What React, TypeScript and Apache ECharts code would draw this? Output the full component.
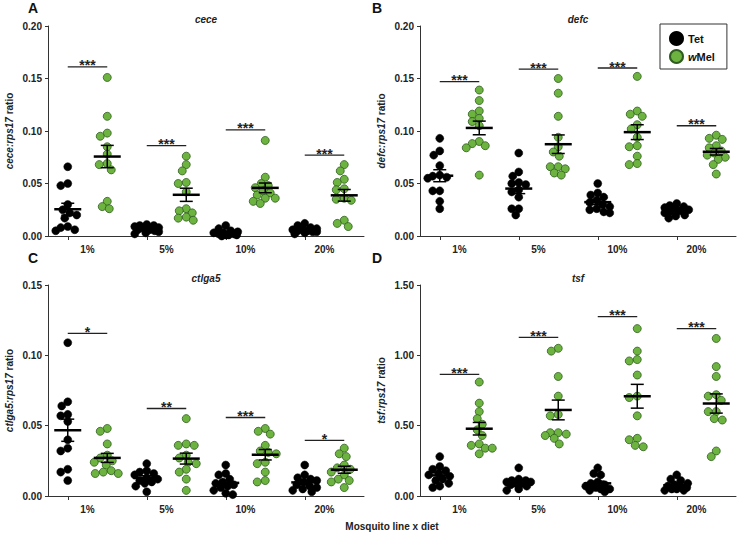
import React, { useEffect, useRef } from "react";
import * as echarts from "echarts";

// ---------- data ----------
const DIETS = ["1%", "5%", "10%", "20%"];
const SLOTS = ["1% Tet", "1% wMel", "5% Tet", "5% wMel", "10% Tet", "10% wMel", "20% Tet", "20% wMel"];

const ceceTet = [
  [0.066, 0.05, 0.048, 0.03, 0.025, 0.022, 0.02, 0.017, 0.009, 0.008, 0.006, 0.005],
  [0.011, 0.01, 0.01, 0.009, 0.008, 0.007, 0.006, 0.006, 0.005, 0.004, 0.003, 0.002],
  [0.01, 0.007, 0.005, 0.004, 0.003, 0.003, 0.002, 0.002, 0.001, 0.001, 0.001, 0.0],
  [0.012, 0.01, 0.008, 0.007, 0.006, 0.006, 0.005, 0.005, 0.004, 0.004, 0.003, 0.002],
];
const ceceWMel = [
  [0.151, 0.114, 0.098, 0.095, 0.085, 0.078, 0.069, 0.068, 0.063, 0.033, 0.028, 0.026],
  [0.076, 0.068, 0.062, 0.051, 0.05, 0.042, 0.026, 0.024, 0.022, 0.018, 0.017, 0.015],
  [0.091, 0.056, 0.05, 0.048, 0.046, 0.043, 0.041, 0.039, 0.036, 0.036, 0.033, 0.031],
  [0.068, 0.062, 0.054, 0.051, 0.045, 0.044, 0.036, 0.035, 0.034, 0.015, 0.012, 0.009],
];
const ceceSigY = [0.161, 0.086, 0.101, 0.077];
const ceceStars = ["***", "***", "***", "***"];

const defcTet = [
  [0.093, 0.081, 0.077, 0.067, 0.058, 0.057, 0.056, 0.055, 0.043, 0.043, 0.033, 0.026],
  [0.079, 0.061, 0.057, 0.051, 0.05, 0.049, 0.044, 0.042, 0.037, 0.026, 0.026, 0.02],
  [0.05, 0.041, 0.039, 0.037, 0.034, 0.032, 0.03, 0.028, 0.026, 0.025, 0.023, 0.022],
  [0.031, 0.029, 0.028, 0.027, 0.026, 0.025, 0.024, 0.023, 0.022, 0.02, 0.019, 0.017],
];
const defcWMel = [
  [0.139, 0.129, 0.119, 0.116, 0.112, 0.109, 0.105, 0.09, 0.088, 0.086, 0.084, 0.058],
  [0.15, 0.136, 0.114, 0.094, 0.085, 0.08, 0.076, 0.066, 0.066, 0.064, 0.06, 0.058],
  [0.152, 0.119, 0.116, 0.114, 0.106, 0.102, 0.094, 0.086, 0.085, 0.076, 0.069, 0.068],
  [0.096, 0.093, 0.092, 0.086, 0.084, 0.081, 0.079, 0.077, 0.075, 0.073, 0.068, 0.059],
];
const defcSigY = [0.147, 0.159, 0.16, 0.105];
const defcStars = ["***", "***", "***", "***"];

const ctlga5Tet = [
  [0.109, 0.067, 0.064, 0.058, 0.057, 0.053, 0.04, 0.034, 0.032, 0.019, 0.017, 0.011],
  [0.023, 0.018, 0.017, 0.016, 0.015, 0.013, 0.012, 0.011, 0.01, 0.009, 0.007, 0.003],
  [0.022, 0.016, 0.015, 0.012, 0.01, 0.009, 0.008, 0.007, 0.006, 0.004, 0.002, 0.001],
  [0.022, 0.015, 0.013, 0.012, 0.011, 0.01, 0.008, 0.007, 0.006, 0.005, 0.004, 0.003],
];
const ctlga5WMel = [
  [0.048, 0.046, 0.037, 0.029, 0.027, 0.025, 0.024, 0.022, 0.018, 0.017, 0.016, 0.016],
  [0.055, 0.037, 0.036, 0.036, 0.029, 0.027, 0.024, 0.023, 0.019, 0.017, 0.012, 0.004],
  [0.048, 0.046, 0.044, 0.036, 0.032, 0.031, 0.03, 0.024, 0.023, 0.017, 0.011, 0.01],
  [0.034, 0.03, 0.028, 0.022, 0.02, 0.019, 0.017, 0.015, 0.012, 0.011, 0.01, 0.006],
];
const ctlga5SigY = [0.1156, 0.0622, 0.0558, 0.0396];
const ctlga5Stars = ["*", "**", "***", "*"];

const tsfTet = [
  [0.28, 0.21, 0.19, 0.18, 0.16, 0.15, 0.14, 0.12, 0.11, 0.09, 0.07, 0.06],
  [0.2, 0.12, 0.11, 0.11, 0.1, 0.1, 0.09, 0.09, 0.08, 0.07, 0.05, 0.04],
  [0.2, 0.16, 0.15, 0.1, 0.09, 0.08, 0.07, 0.06, 0.05, 0.05, 0.04, 0.03],
  [0.15, 0.12, 0.11, 0.09, 0.08, 0.07, 0.06, 0.06, 0.05, 0.05, 0.04, 0.04],
];
const tsfWMel = [
  [0.81, 0.66, 0.6, 0.55, 0.51, 0.47, 0.43, 0.37, 0.36, 0.34, 0.34, 0.3],
  [1.05, 1.03, 0.85, 0.71, 0.58, 0.57, 0.45, 0.45, 0.44, 0.43, 0.41, 0.37],
  [1.19, 1.03, 0.97, 0.96, 0.86, 0.71, 0.7, 0.57, 0.41, 0.4, 0.36, 0.35],
  [1.12, 0.92, 0.85, 0.72, 0.71, 0.68, 0.6, 0.6, 0.55, 0.54, 0.32, 0.28],
];
const tsfSigY = [0.864, 1.127, 1.275, 1.19];
const tsfStars = ["***", "***", "***", "***"];

// ---------- layout ----------
const FONT = '"Liberation Sans", Arial, Helvetica, sans-serif';
const PLOT_W = 316;
const SLOT_PX = PLOT_W / 8;
const DOT = 8;
const GREEN = "#6db33f";
const GREEN_EDGE = "#2f5d1f";

const PANELS = [
  { letter: "A", gene: "cece", tet: ceceTet, wmel: ceceWMel, sigY: ceceSigY, stars: ceceStars, max: 0.2, step: 0.05, left: 48, top: 26, h: 210, lx: 33, ly: 8 },
  { letter: "B", gene: "defc", tet: defcTet, wmel: defcWMel, sigY: defcSigY, stars: defcStars, max: 0.2, step: 0.05, left: 420, top: 26, h: 210, lx: 377, ly: 8 },
  { letter: "C", gene: "ctlga5", tet: ctlga5Tet, wmel: ctlga5WMel, sigY: ctlga5SigY, stars: ctlga5Stars, max: 0.15, step: 0.05, left: 48, top: 285, h: 211, lx: 33, ly: 258 },
  { letter: "D", gene: "tsf", tet: tsfTet, wmel: tsfWMel, sigY: tsfSigY, stars: tsfStars, max: 1.5, step: 0.5, left: 420, top: 285, h: 211, lx: 377, ly: 258 },
];

function mean(a: number[]) {
  return a.reduce((s, v) => s + v, 0) / a.length;
}
function sem(a: number[]) {
  const m = mean(a);
  const v = a.reduce((s, x) => s + (x - m) * (x - m), 0) / (a.length - 1);
  return Math.sqrt(v) / Math.sqrt(a.length);
}

// simple beeswarm: horizontal offsets (in px) so dots do not overlap, capped width
function swarm(values: number[], pxPerUnit: number, diam: number, cap: number): number[] {
  const order = values.map((_, i) => i).sort((a, b) => values[b] - values[a]);
  const placed: { x: number; y: number }[] = [];
  const offs = new Array(values.length).fill(0);
  for (const i of order) {
    const y = values[i] * pxPerUnit;
    let best = 0;
    let bestScore = -Infinity;
    for (let k = 0; k <= 2 * cap; k++) {
      const c = (k % 2 === 0 ? 1 : -1) * Math.ceil(k / 2);
      let minD = Infinity;
      for (const p of placed) {
        const d = Math.hypot(p.x - c, p.y - y);
        if (d < minD) minD = d;
      }
      if (minD >= diam) {
        best = c;
        break;
      }
      if (minD > bestScore + 0.01) {
        bestScore = minD;
        best = c;
      }
    }
    placed.push({ x: best, y });
    offs[i] = best;
  }
  return offs;
}

function buildOption() {
  const grid: any[] = [];
  const xAxis: any[] = [];
  const yAxis: any[] = [];
  const series: any[] = [];
  const graphic: any[] = [];

  PANELS.forEach((p, gi) => {
    grid.push({ left: p.left, top: p.top, width: PLOT_W, height: p.h, containLabel: false });
    const pxPerUnit = p.h / p.max;
    xAxis.push({ type: "value", gridIndex: gi, min: 0, max: 8, show: false, position: "bottom" });
    xAxis.push({
      type: "category",
      gridIndex: gi,
      position: "bottom",
      data: SLOTS,
      axisLine: { show: true, lineStyle: { color: "#333", width: 1 } },
      axisTick: { show: true, alignWithLabel: true, length: 4, lineStyle: { color: "#333", width: 1 } },
      axisLabel: { show: false },
      splitLine: { show: false },
    });
    xAxis.push({
      type: "category",
      gridIndex: gi,
      position: "bottom",
      data: DIETS,
      axisLine: { show: false },
      axisTick: { show: false },
      axisLabel: { show: true, margin: 8, fontSize: 10, fontWeight: "bold", color: "#222", fontFamily: FONT },
      splitLine: { show: false },
    });
    yAxis.push({
      type: "value",
      gridIndex: gi,
      min: 0,
      max: p.max,
      interval: p.step,
      name: `{i|${p.gene}:rps17} ratio`,
      nameLocation: "middle",
      nameRotate: 90,
      nameGap: 34,
      nameTextStyle: {
        fontSize: 10,
        fontWeight: "bold",
        color: "#222",
        fontFamily: FONT,
        rich: { i: { fontSize: 10, fontWeight: "bold", fontStyle: "italic", color: "#222", fontFamily: FONT } },
      },
      axisLine: { show: true, lineStyle: { color: "#333", width: 1 } },
      axisTick: { show: true, length: 3, lineStyle: { color: "#333" } },
      axisLabel: {
        margin: 6,
        fontSize: 10,
        fontWeight: "bold",
        color: "#222",
        fontFamily: FONT,
        formatter: (v: number) => v.toFixed(2),
      },
      splitLine: { show: false },
    });

    const vx = gi * 3;
    const tetData: number[][] = [];
    const wData: number[][] = [];
    const summary: number[][] = [];
    p.tet.forEach((vals, g) => {
      const offs = swarm(vals, pxPerUnit, 6.8, 12);
      vals.forEach((v, i) => tetData.push([2 * g + 0.5 + offs[i] / SLOT_PX, v]));
      summary.push([2 * g + 0.5, mean(vals), sem(vals)]);
    });
    p.wmel.forEach((vals, g) => {
      const offs = swarm(vals, pxPerUnit, 7.2, 13);
      vals.forEach((v, i) => wData.push([2 * g + 1.5 + offs[i] / SLOT_PX, v]));
      summary.push([2 * g + 1.5, mean(vals), sem(vals)]);
    });

    series.push({
      name: "Tet",
      type: "scatter",
      xAxisIndex: vx,
      yAxisIndex: gi,
      data: tetData,
      symbol: "circle",
      symbolSize: DOT,
      itemStyle: { color: "#000", borderColor: "#000", borderWidth: 0.5, opacity: 1 },
      z: 2,
    });
    series.push({
      name: "wMel",
      type: "scatter",
      xAxisIndex: vx,
      yAxisIndex: gi,
      data: wData,
      symbol: "circle",
      symbolSize: DOT,
      itemStyle: { color: GREEN, borderColor: GREEN_EDGE, borderWidth: 0.8, opacity: 1 },
      z: 2,
    });
    series.push({
      type: "custom",
      xAxisIndex: vx,
      yAxisIndex: gi,
      data: summary,
      encode: { x: 0, y: 1 },
      silent: true,
      z: 4,
      renderItem: (params: any, api: any) => {
        const x = api.value(0);
        const m = api.value(1);
        const s = api.value(2);
        const pm = api.coord([x, m]);
        const pt = api.coord([x, m + s]);
        const pb = api.coord([x, Math.max(0, m - s)]);
        const thin = { stroke: "#000", lineWidth: 1.5 };
        return {
          type: "group",
          children: [
            { type: "line", shape: { x1: pm[0] - 13.5, y1: pm[1], x2: pm[0] + 13.5, y2: pm[1] }, style: { stroke: "#000", lineWidth: 2.5 } },
            { type: "line", shape: { x1: pt[0], y1: pt[1], x2: pb[0], y2: pb[1] }, style: thin },
            { type: "line", shape: { x1: pt[0] - 6.5, y1: pt[1], x2: pt[0] + 6.5, y2: pt[1] }, style: thin },
            { type: "line", shape: { x1: pb[0] - 6.5, y1: pb[1], x2: pb[0] + 6.5, y2: pb[1] }, style: thin },
          ],
        };
      },
    });
    const stars = p.stars;
    series.push({
      type: "custom",
      xAxisIndex: vx,
      yAxisIndex: gi,
      data: p.sigY.map((y, g) => [g, y]),
      encode: { y: 1 },
      silent: true,
      z: 4,
      renderItem: (params: any, api: any) => {
        const g = api.value(0);
        const y = api.value(1);
        const a = api.coord([2 * g + 0.5, y]);
        const b = api.coord([2 * g + 1.5, y]);
        return {
          type: "group",
          children: [
            { type: "line", shape: { x1: a[0], y1: a[1], x2: b[0], y2: b[1] }, style: { stroke: "#222", lineWidth: 1.3 } },
            {
              type: "text",
              x: (a[0] + b[0]) / 2,
              y: a[1] - 1.5,
              style: {
                text: stars[params.dataIndex],
                fill: "#222",
                font: `bold 14px ${FONT}`,
                textAlign: "center",
                textVerticalAlign: "middle",
                align: "center",
                verticalAlign: "middle",
              },
            },
          ],
        };
      },
    });

    graphic.push({
      type: "text",
      x: p.lx,
      y: p.ly,
      style: { text: p.letter, fill: "#111", font: `bold 14px ${FONT}`, textAlign: "center", textVerticalAlign: "middle" },
    });
    graphic.push({
      type: "text",
      x: p.left + PLOT_W / 2,
      y: p.top - 7,
      style: { text: p.gene, fill: "#222", font: `italic bold 10px ${FONT}`, textAlign: "center", textVerticalAlign: "middle" },
    });
  });

  graphic.push({
    type: "text",
    x: 392,
    y: 526,
    style: { text: "Mosquito line x diet", fill: "#222", font: `bold 10px ${FONT}`, textAlign: "center", textVerticalAlign: "middle" },
  });

  return {
    animation: false,
    backgroundColor: "#fff",
    textStyle: { fontFamily: FONT },
    legend: {
      data: ["Tet", "wMel"],
      orient: "vertical",
      left: 660,
      top: 24,
      padding: [7, 12, 5, 9],
      itemWidth: 13,
      itemHeight: 13,
      itemGap: 3,
      borderColor: "#333",
      borderWidth: 1,
      selectedMode: false,
      icon: "circle",
      formatter: (name: string) => (name === "wMel" ? "{i|w}{n|Mel}" : "{n|" + name + "}"),
      textStyle: {
        fontSize: 11,
        fontWeight: "bold",
        color: "#111",
        fontFamily: FONT,
        rich: {
          i: { fontSize: 11, fontWeight: "bold", fontStyle: "italic", color: "#111", fontFamily: FONT },
          n: { fontSize: 11, fontWeight: "bold", color: "#111", fontFamily: FONT },
        },
      },
    },
    grid,
    xAxis,
    yAxis,
    series,
    graphic,
  };
}

export default function App() {
  const ref = useRef<HTMLDivElement>(null);
  useEffect(() => {
    document.body.style.margin = "0";
    if (!ref.current) return;
    const chart = echarts.init(ref.current, undefined, { renderer: "svg" });
    chart.setOption(buildOption() as any);
    return () => chart.dispose();
  }, []);
  return <div ref={ref} style={{ width: 739, height: 534 }} />;
}
